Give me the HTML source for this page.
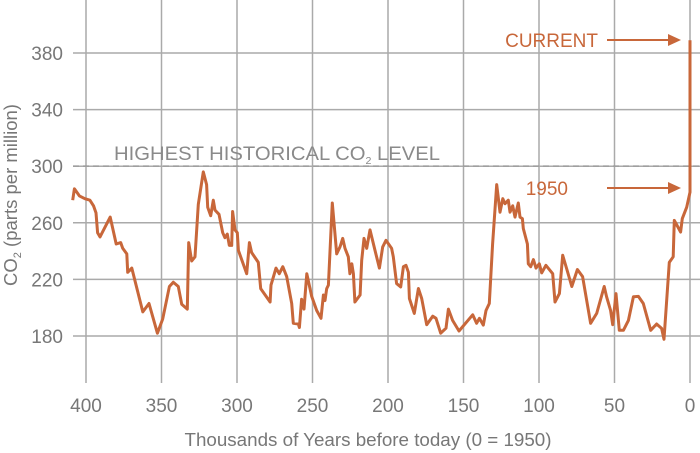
<!DOCTYPE html>
<html><head><meta charset="utf-8"><style>
body{margin:0;background:#fff}
svg{display:block;font-family:"Liberation Sans",sans-serif}
</style></head><body>
<svg id="chart" width="700" height="453" viewBox="0 0 700 453">
<g id="grid"></g>
<g id="axes"></g>
<line x1="73" x2="700" y1="166" y2="166" stroke="#999" stroke-width="1.3" stroke-dasharray="6,4"/>
<text x="114" y="160" font-size="19" fill="#8a8a8a" textLength="326" lengthAdjust="spacingAndGlyphs">HIGHEST HISTORICAL CO<tspan font-size="10" dy="4">2</tspan><tspan dy="-4"> LEVEL</tspan></text>
<path id="series" fill="none" stroke="#c8673a" stroke-width="3" stroke-linejoin="round"/>
<text x="598" y="47" font-size="19" fill="#c8673a" text-anchor="end">CURRENT</text>
<line x1="607" x2="670" y1="40" y2="40" stroke="#c8673a" stroke-width="2"/>
<polygon points="668,34 681,40 668,46" fill="#c8673a"/>
<text x="568" y="195" font-size="19" fill="#c8673a" text-anchor="end">1950</text>
<line x1="607" x2="670" y1="188" y2="188" stroke="#c8673a" stroke-width="2"/>
<polygon points="668,182 681,188 668,194" fill="#c8673a"/>
<text x="368" y="446" font-size="18.8" fill="#777" text-anchor="middle">Thousands of Years before today (0 = 1950)</text>
<text transform="translate(17,195) rotate(-90)" font-size="18.5" fill="#777" text-anchor="middle">CO<tspan font-size="11" dy="4">2</tspan><tspan dy="-4"> (parts per million)</tspan></text>
</svg>
<script>
const xTicks=[400,350,300,250,200,150,100,50,0];
const yTicks=[180,220,260,300,340,380];
const yearsKa=[408.8,407.7,404.4,400.7,397.4,395,393.4,392.3,390.7,384,380,377,375.7,373,372.4,369.7,362.4,358.3,352.7,349.2,344.8,342.2,338.9,336.6,332.9,332,330,327.8,325.6,322.3,320.1,319.4,317.4,315.7,314.6,311.9,309.5,308,306.4,305.1,303.5,302.9,301.3,299.8,299.1,293.6,291.8,290.3,285.9,284.3,278.1,277.5,274.2,272,269.7,267.1,263.8,262.7,259.4,258.7,257.2,255.6,253.8,250.5,247.2,244.4,242.8,241.7,240.6,239.5,236.9,234,231.8,230,228.5,226.3,225.2,224,222.9,221.9,218.5,217.4,215.9,214.1,211.9,208.6,205.7,203.5,201.3,197.6,196.5,194.3,191.6,189.8,188.1,186.5,185.8,182.6,179.9,177.7,174.4,170.4,168.2,165.1,161.6,160,157.2,153,143.9,141.3,139.5,136.9,135.1,132.9,130.7,128,125.8,124,122.5,120.3,119.2,117.4,115.9,113.7,112.6,111,110.4,107.7,107.1,105.5,103.7,102,99.8,98.2,95.4,90.9,89.4,86.5,84.3,81.7,78.3,74.6,71.1,65.8,61.8,56.8,55.2,52.6,51.2,49,46.8,44.1,40.8,37.5,34.2,30.9,26,22.1,18.8,17.2,13.7,11.1,10.4,6.2,5.1,2.2,0,0];
const co2Ppm=[276,284,279,277,276,272,267,253,250,264,245,246,242,238,225,228,197,203,182,192,215,218,215,202.5,199,246,233,236,273,296,287,271,265,276,269,266,253,249.5,252,244,244,268,255,253,240.5,224,246,239,232,213.5,204,216,228,224,229,222,203,189,188.5,186,206,199,224,208,198,192.5,209,205,213.5,216,274,238,243,249,242,236,224,231,224,204,209,233.5,249,242,255,240.5,228,243,247.6,242,236,217,214.7,229,230,225,206.5,196,213.6,206.5,188,194,192.5,182,185.5,199,191,183.5,195,189,192.5,187.7,198,203,245,287,267.5,277,273.5,276,267.5,272,264,274,264,263,256,245,231,229,234,228,231,224.6,230,224,204,210,237,227.7,215,227,222,189,196,215,207.7,198,188,210,184,184,191,207.7,208,203,184,188.5,185.4,177.7,232,236,261.7,253.5,263,271,281.6,389];
const NS="http://www.w3.org/2000/svg";
const xs=v=>690-v*1.51;
const ys=v=>336-(v-180)*1.415;
const grid=document.getElementById('grid'),axes=document.getElementById('axes');
function mk(tag,attrs,parent){const e=document.createElementNS(NS,tag);for(const k in attrs)e.setAttribute(k,attrs[k]);parent.appendChild(e);return e;}
xTicks.forEach(t=>{
 const l=mk('line',{x1:xs(t),x2:xs(t),y1:0,y2:383,stroke:'#aaa','stroke-width':1.5},grid);
 
 
 const tx=mk('text',{x:xs(t),y:412,'font-size':19,fill:'#777','text-anchor':'middle'},axes);
 tx.textContent=t;
 
 
});
yTicks.forEach(t=>{
 const l=mk('line',{x1:73,x2:700,y1:ys(t),y2:ys(t),stroke:'#aaa','stroke-width':1.5},grid);
 
 
 const tx=mk('text',{x:63,y:ys(t)+7,'font-size':19,fill:'#777','text-anchor':'end'},axes);
 tx.textContent=t;
 
 
});
document.getElementById('series').setAttribute('d',yearsKa.map((k,i)=>(i?'L':'M')+xs(k).toFixed(1)+','+ys(co2Ppm[i]).toFixed(1)).join(''));
</script>
</body></html>
